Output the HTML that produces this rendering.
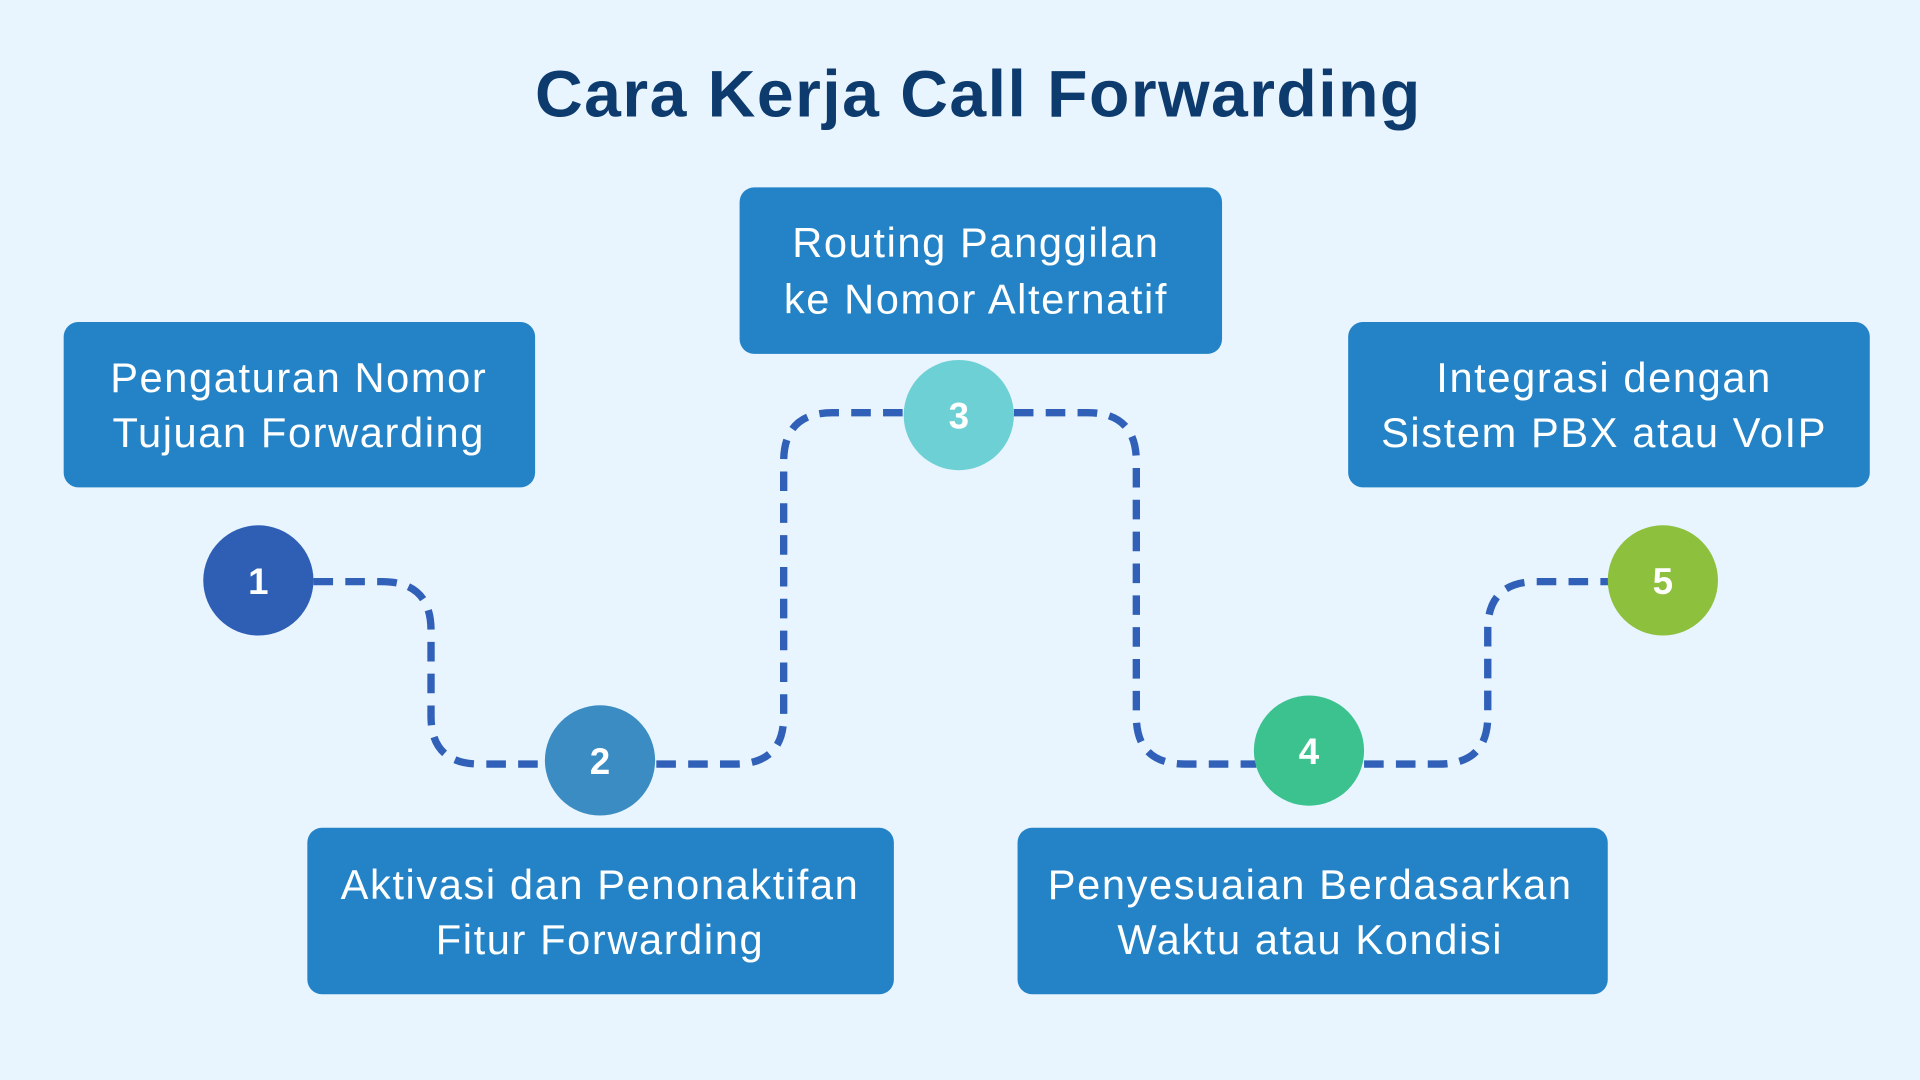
<!DOCTYPE html>
<html><head><meta charset="utf-8"><style>
html,body{margin:0;padding:0;background:#e8f4fe;}
svg{display:block;}
</style></head><body>
<svg width="1920" height="1080" viewBox="0 0 1568 882" xmlns="http://www.w3.org/2000/svg">
<rect width="1568" height="882" fill="#e8f4fe"/>
<text x="799" y="95" text-anchor="middle" font-family="Liberation Sans, sans-serif" font-weight="bold" font-size="54" letter-spacing="1.2" fill="#0d3b6e">Cara Kerja Call Forwarding</text>

<g fill="none" stroke="#3060b8" stroke-width="6" stroke-dasharray="16 10">
<path d="M256 475 H312 Q352 475 352 515 V585 Q352 624 392 624 H446"/>
<path d="M536 624 H600 Q640 624 640 585 V377 Q640 337 680 337 H740"/>
<path d="M828 337 H888 Q928 337 928 377 V585 Q928 624 968 624 H1026"/>
<path d="M1114 624 H1175 Q1215 624 1215 585 V514 Q1215 475 1255 475 H1316"/>
</g>

<g fill="#2383c6">
<rect x="52" y="263" width="385" height="135" rx="12"/>
<rect x="604" y="153" width="394" height="136" rx="12"/>
<rect x="1101" y="263" width="426" height="135" rx="12"/>
<rect x="251" y="676" width="479" height="136" rx="12"/>
<rect x="831" y="676" width="482" height="136" rx="12"/>
</g>
<g font-family="Liberation Sans, sans-serif" font-size="34" letter-spacing="1.3" fill="#ffffff" text-anchor="middle">
<text x="244" y="320">Pengaturan Nomor</text>
<text x="244" y="365">Tujuan Forwarding</text>
<text x="797" y="210">Routing Panggilan</text>
<text x="797" y="256">ke Nomor Alternatif</text>
<text x="1310" y="320">Integrasi dengan</text>
<text x="1310" y="365">Sistem PBX atau VoIP</text>
<text x="490" y="734">Aktivasi dan Penonaktifan</text>
<text x="490" y="779">Fitur Forwarding</text>
<text x="1070" y="734">Penyesuaian Berdasarkan</text>
<text x="1070" y="779">Waktu atau Kondisi</text>
</g>

<circle cx="211" cy="474" r="45" fill="#2e5fb5"/>
<circle cx="490" cy="621" r="45" fill="#3a8cc2"/>
<circle cx="783" cy="339" r="45" fill="#6dd0d4"/>
<circle cx="1069" cy="613" r="45" fill="#3cc28f"/>
<circle cx="1358" cy="474" r="45" fill="#8dc03c"/>
<g font-family="Liberation Sans, sans-serif" font-weight="bold" font-size="30" fill="#ffffff" text-anchor="middle">
<text x="211" y="485">1</text>
<text x="490" y="632">2</text>
<text x="783" y="350">3</text>
<text x="1069" y="624">4</text>
<text x="1358" y="485">5</text>
</g>
</svg>
</body></html>
